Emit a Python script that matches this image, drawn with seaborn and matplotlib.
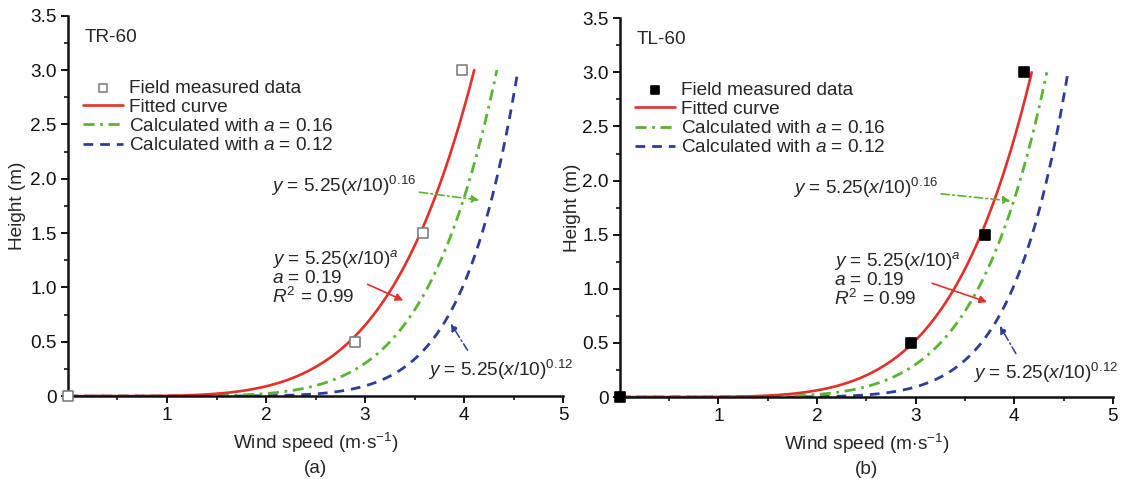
import numpy as np
import pandas as pd
import matplotlib
matplotlib.use("Agg")
import matplotlib.pyplot as plt
from matplotlib.ticker import MultipleLocator, FixedLocator
import seaborn as sns

# ---------------- data ----------------
panel_titles = ["TR-60", "TL-60"]
panel_letters = ["(a)", "(b)"]
measured_speed_a = [0.0, 2.90, 3.58, 3.98]
measured_height_a = [0.0, 0.5, 1.5, 3.0]
measured_speed_b = [0.0, 2.95, 3.70, 4.10]
measured_height_b = [0.0, 0.5, 1.5, 3.0]
ref_speed = 5.25          # wind speed at 10 m (m/s)
ref_height = 10.0
fit_exponent_a = 0.205    # fitted curve as drawn in panel (a)
fit_exponent_b = 0.19     # fitted curve in panel (b)
calc_exponents = [0.16, 0.12]
max_height = 3.0
legend_labels = ["Field measured data", "Fitted curve",
                 "Calculated with $a$ = 0.16", "Calculated with $a$ = 0.12"]

RED = "#e3302a"
GREEN = "#5ab431"
BLUE = "#2f3c98"

sns.set_theme(style="white")
plt.rcParams["font.family"] = ["Liberation Sans", "DejaVu Sans"]
plt.rcParams["mathtext.fontset"] = "custom"
plt.rcParams["mathtext.rm"] = "Liberation Sans"
plt.rcParams["mathtext.it"] = "Liberation Sans:italic"
FS = 13.7


def power_curve(a):
    u_max = ref_speed * (max_height / ref_height) ** a
    u = np.linspace(0, u_max, 400)
    h = ref_height * (u / ref_speed) ** (1.0 / a)
    return pd.DataFrame({"speed": u, "height": h})


fig = plt.figure(figsize=(11.23, 4.79), dpi=100)
positions = [[0.0605, 0.173, 0.441, 0.794], [0.552, 0.171, 0.439, 0.791]]

panels = [
    dict(sx=measured_speed_a, sy=measured_height_a, fit=fit_exponent_a,
         mfc="white", mec="#808080",
         ann16=dict(text=(3.52, 1.93), tip=(4.18, 1.80)),
         annfit=dict(text=(2.06, 1.36), start=(3.00, 1.04), tip=(3.41, 0.87)),
         ann12=dict(text=(3.64, 0.24), start=(4.05, 0.40), tip=(3.85, 0.69))),
    dict(sx=measured_speed_b, sy=measured_height_b, fit=fit_exponent_b,
         mfc="black", mec="black",
         ann16=dict(text=(3.23, 1.93), tip=(3.99, 1.81)),
         annfit=dict(text=(2.17, 1.36), start=(3.14, 1.06), tip=(3.75, 0.87)),
         ann12=dict(text=(3.58, 0.22), start=(4.03, 0.38), tip=(3.84, 0.68))),
]

for i, p in enumerate(panels):
    ax = fig.add_axes(positions[i])
    fit_df = power_curve(p["fit"])
    c16 = power_curve(calc_exponents[0])
    c12 = power_curve(calc_exponents[1])

    sns.lineplot(data=c12, x="speed", y="height", sort=False, estimator=None, ax=ax,
                 color=BLUE, lw=2.0, linestyle=(0, (3.5, 2.5)), label=legend_labels[3])
    sns.lineplot(data=c16, x="speed", y="height", sort=False, estimator=None, ax=ax,
                 color=GREEN, lw=2.0, linestyle=(0, (4, 2, 1, 2)), label=legend_labels[2])
    sns.lineplot(data=fit_df, x="speed", y="height", sort=False, estimator=None, ax=ax,
                 color=RED, lw=1.9, label=legend_labels[1])
    sns.scatterplot(x=p["sx"], y=p["sy"], ax=ax, marker="s", s=55,
                    facecolor=p["mfc"], edgecolor=p["mec"], linewidth=1.2,
                    label=legend_labels[0], zorder=5, clip_on=False)

    ax.set_xlim(0, 5)
    ax.set_ylim(0, 3.5)
    for s in ["top", "right"]:
        ax.spines[s].set_visible(False)
    for s in ["left", "bottom"]:
        ax.spines[s].set_color("#111111")
        ax.spines[s].set_linewidth(1.8)
    ax.xaxis.set_major_locator(FixedLocator([1, 2, 3, 4, 5]))
    ax.xaxis.set_minor_locator(MultipleLocator(0.5))
    ax.set_yticks(np.arange(0, 3.51, 0.5))
    ax.yaxis.set_minor_locator(MultipleLocator(0.25))
    ax.set_yticklabels(["0", "0.5", "1.0", "1.5", "2.0", "2.5", "3.0", "3.5"])
    ax.tick_params(axis="both", which="major", direction="out", length=5, width=1.4,
                   labelsize=FS, colors="#111111", pad=3)
    ax.tick_params(axis="both", which="minor", direction="out", length=3, width=1.2,
                   colors="#111111")
    ax.tick_params(axis="x", bottom=True, which="both")
    ax.tick_params(axis="y", left=True, which="both")

    ax.set_xlabel("Wind speed (m$\\cdot$s$^{-1}$)", fontsize=FS, va="center")
    ax.xaxis.set_label_coords(0.5, -0.124)
    ax.set_ylabel("Height (m)", fontsize=FS, va="center")
    ax.yaxis.set_label_coords(-0.101 if i == 0 else -0.097, 0.5)
    ax.text(0.5, -0.190, panel_letters[i], transform=ax.transAxes, ha="center",
            va="center", fontsize=FS)
    ax.text(0.17, 3.30, panel_titles[i], fontsize=FS, va="center")

    # legend in the order shown on the chart
    handles, labels = ax.get_legend_handles_labels()
    order = [labels.index(l) for l in legend_labels]
    ax.legend([handles[k] for k in order], [labels[k] for k in order],
              loc="upper left", bbox_to_anchor=(0.015, 0.853), frameon=False,
              fontsize=FS, handlelength=2.1, handletextpad=0.3, labelspacing=0.1,
              borderaxespad=0, markerscale=0.75)

    a16 = p["ann16"]
    ax.text(a16["text"][0], a16["text"][1], "$y$ = 5.25($x$/10)$^{0.16}$",
            fontsize=FS, ha="right", va="center")
    ax.annotate("", xy=a16["tip"], xytext=(a16["text"][0], a16["text"][1] - 0.05),
                arrowprops=dict(arrowstyle="-|>", color=GREEN, lw=1.2,
                                linestyle=(0, (5, 2, 1, 2)), mutation_scale=11))

    af = p["annfit"]
    ax.text(af["text"][0], af["text"][1],
            "$y$ = 5.25($x$/10)$^{a}$\n$a$ = 0.19\n$R^2$ = 0.99",
            fontsize=FS, ha="left", va="top", linespacing=1.0)
    ax.annotate("", xy=af["tip"], xytext=af["start"],
                arrowprops=dict(arrowstyle="-|>", color=RED, lw=1.2, mutation_scale=11))

    a12 = p["ann12"]
    ax.text(a12["text"][0], a12["text"][1], "$y$ = 5.25($x$/10)$^{0.12}$",
            fontsize=FS, ha="left", va="center")
    ax.annotate("", xy=a12["tip"], xytext=a12["start"],
                arrowprops=dict(arrowstyle="-|>", color=BLUE, lw=1.1,
                                linestyle=(0, (5, 2, 1, 2)), mutation_scale=11))

fig.savefig("out.png", dpi=100, facecolor="white")
